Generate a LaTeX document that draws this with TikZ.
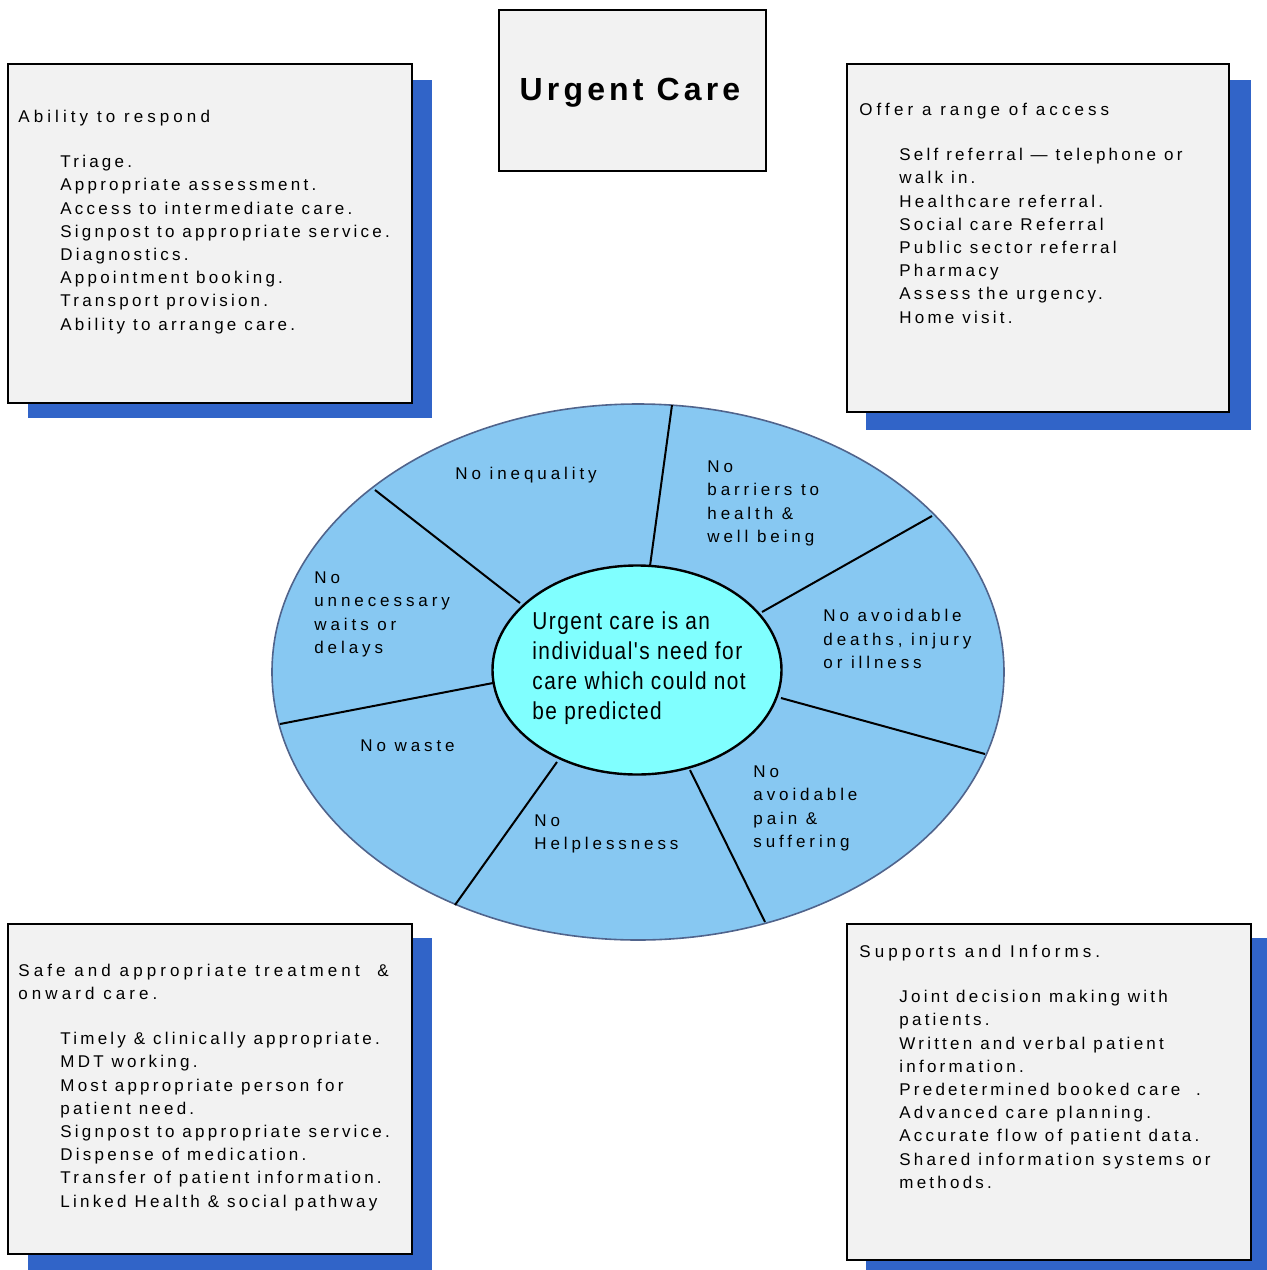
\documentclass[tikz,border=0pt]{standalone}
\usepackage{fontspec}
\setmainfont{Liberation Sans}
\newfontfamily\itemfont[LetterSpace=19]{Liberation Sans}
\newfontfamily\headfont[LetterSpace=24]{Liberation Sans}
\newfontfamily\ringfont[LetterSpace=23]{Liberation Sans}
\newfontfamily\titlefont[LetterSpace=13]{Liberation Sans}
\newfontfamily\narrowfont[FakeStretch=0.85,LetterSpace=6]{Liberation Sans}
\definecolor{shadowblue}{RGB}{49,100,200}
\definecolor{boxgray}{RGB}{242,242,242}
\definecolor{ringblue}{RGB}{135,200,242}
\definecolor{ringedge}{RGB}{80,100,140}
\definecolor{corecyan}{RGB}{128,255,255}
\usetikzlibrary{shapes.geometric}
\tikzset{
  shadowbox/.style={fill=shadowblue},
  panel/.style={draw=black, line width=1pt, fill=boxgray},
  boxtext/.style={anchor=north west, inner sep=0pt, align=left,
     font=\itemfont\fontsize{8.5}{11.6}\selectfont},
  headtext/.style={anchor=north west, inner sep=0pt, align=left,
     font=\headfont\fontsize{8.5}{11.6}\selectfont},
  ringlabel/.style={anchor=north west, inner sep=0pt, align=left,
     font=\ringfont\fontsize{8.5}{11.75}\selectfont},
  spoke/.style={draw=black, line width=1pt},
}
\begin{document}
\begin{tikzpicture}[x=0.5pt,y=-0.5pt]
\useasboundingbox (0,0) rectangle (1267,1270);

% ---- shadows and panels
\fill[shadowbox] (28,80) rectangle (432,418);
\path[panel] (8,64) rectangle (412,403);
\fill[shadowbox] (866,80) rectangle (1251,430);
\path[panel] (847,64) rectangle (1229,412);
\fill[shadowbox] (28,938) rectangle (432,1270);
\path[panel] (8,924) rectangle (412,1254);
\fill[shadowbox] (866,938) rectangle (1267,1270);
\path[panel] (847,924) rectangle (1251,1260);

% ---- title
\node[draw=black, line width=0.8pt, fill=boxgray, minimum width=133.5pt, minimum height=80.5pt, inner sep=0pt] (titlebox) at (632.5,90.5) {};
\node[anchor=base, inner sep=0pt, font=\titlefont\bfseries\fontsize{16}{19}\selectfont] (title) at (630,100) {Urgent Care};

% ---- top left
\node[headtext] (tlhead) at (18,110) {Ability to respond};
\node[boxtext] (tlitems) at (60,155) {Triage.\\Appropriate assessment.\\Access to intermediate care.\\Signpost to appropriate service.\\Diagnostics.\\Appointment booking.\\Transport provision.\\Ability to arrange care.};

% ---- top right
\node[headtext] (trhead) at (859,103) {Offer a range of access};
\node[boxtext] (tritems) at (899,148) {Self referral — telephone or\\walk in.\\Healthcare referral.\\Social care Referral\\Public sector referral\\Pharmacy\\Assess the urgency.\\Home visit.};

% ---- bottom left
\node[headtext] (blhead) at (18,964) {Safe and appropriate treatment \ \&\\onward care.};
\node[boxtext] (blitems) at (60,1032) {Timely \& clinically appropriate.\\MDT working.\\Most appropriate person for\\patient need.\\Signpost to appropriate service.\\Dispense of medication.\\Transfer of patient information.\\Linked Health \& social pathway};

% ---- bottom right
\node[headtext] (brhead) at (859,945) {Supports and Informs.};
\node[boxtext] (britems) at (899,990) {Joint decision making with\\patients.\\Written and verbal patient\\information.\\Predetermined booked care \ .\\Advanced care planning.\\Accurate flow of patient data.\\Shared information systems or\\methods.};

% ---- ring
\node[ellipse, draw=ringedge, line width=0.8pt, fill=ringblue, minimum width=366pt, minimum height=268pt, inner sep=0pt] (ring) at (638,672) {};
\node[ellipse, draw=black, line width=1.2pt, fill=corecyan, minimum width=144.5pt, minimum height=104.5pt, inner sep=0pt] (core) at (637,670) {};

% spokes
\coordinate (i1) at (650,566); \coordinate (o1) at (672,405);
\coordinate (i2) at (762,612); \coordinate (o2) at (932,516);
\coordinate (i3) at (781,698); \coordinate (o3) at (985,754);
\coordinate (i4) at (690,770); \coordinate (o4) at (765,922);
\coordinate (i5) at (557,762); \coordinate (o5) at (455,905);
\coordinate (i6) at (493,683); \coordinate (o6) at (280,724);
\coordinate (i7) at (520,603); \coordinate (o7) at (375,490);
\foreach \k in {1,...,7} \draw[spoke] (i\k) -- (o\k);

% core text
\node[anchor=north west, inner sep=0pt, align=left, font=\narrowfont\fontsize{12.25}{15}\selectfont] (coretext) at (532,611) {Urgent care is an\\individual's need for\\care which could not\\be predicted};

% ring labels
\node[ringlabel] (l1) at (455,467) {No inequality};
\node[ringlabel] (l2) at (707,460) {No\\barriers to\\health \&\\well being};
\node[ringlabel] (l3) at (823,609) {No avoidable\\deaths, injury\\or illness};
\node[ringlabel] (l4) at (753,765) {No\\avoidable\\pain \&\\suffering};
\node[ringlabel] (l5) at (534,814) {No\\Helplessness};
\node[ringlabel] (l6) at (360,739) {No waste};
\node[ringlabel] (l7) at (314,571) {No\\unnecessary\\waits or\\delays};
\end{tikzpicture}
\end{document}
